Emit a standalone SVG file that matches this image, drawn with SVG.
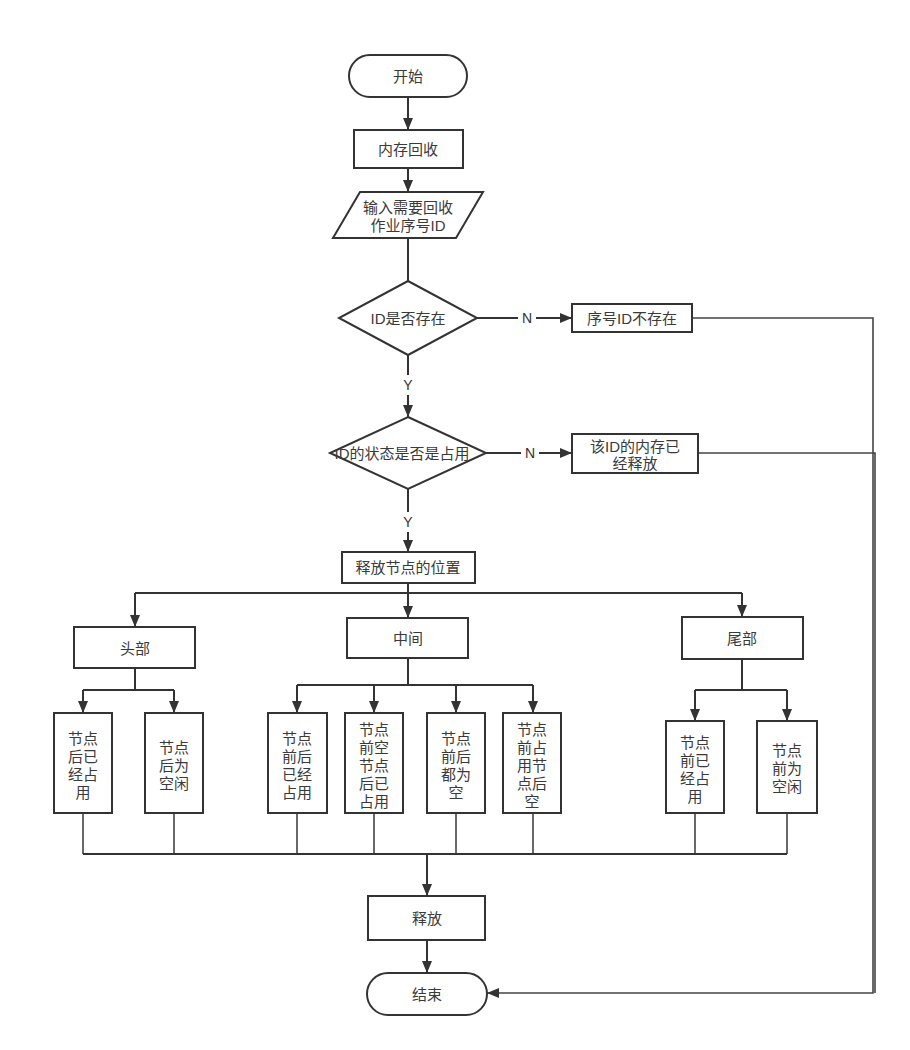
<svg xmlns="http://www.w3.org/2000/svg" width="910" height="1050" viewBox="0 0 910 1050">
<defs>
<style>
.n{fill:#fff;stroke:#333;stroke-width:2}
.t{font-family:"Liberation Sans","Noto Sans CJK SC",sans-serif;font-size:15px;fill:#3a3a3a;text-anchor:middle;dominant-baseline:central}
.c{fill:none;stroke:#333;stroke-width:2}
.c2{fill:none;stroke:#444;stroke-width:1.6}
.lbl{font-family:"Liberation Sans","Noto Sans CJK SC",sans-serif;font-size:14px;fill:#333;text-anchor:middle;dominant-baseline:central}
</style>
<marker id="ah" markerUnits="userSpaceOnUse" markerWidth="12" markerHeight="10" refX="12" refY="5" orient="auto">
<path d="M0,0 L12,5 L0,10 z" fill="#333"/>
</marker>
</defs>
<rect width="910" height="1050" fill="#fff"/>
<g id="connectors">
<path class="c" d="M408,97 V130" marker-end="url(#ah)"/>
<path class="c" d="M408,168 V192" marker-end="url(#ah)"/>
<path class="c" d="M408,238 V281"/>
<path class="c" d="M477,318 H572" marker-end="url(#ah)"/>
<path class="c" d="M408,355 V417" marker-end="url(#ah)"/>
<path class="c" d="M486,453 H572" marker-end="url(#ah)"/>
<path class="c" d="M408,489 V552" marker-end="url(#ah)"/>
<path class="c2" d="M692,318 H873 V993 H487" marker-end="url(#ah)"/>
<path class="c2" d="M698,453 H875 V993"/>
<path class="c" d="M408,583 V618" marker-end="url(#ah)"/>
<path class="c" d="M135,593 H742"/>
<path class="c" d="M135,593 V627" marker-end="url(#ah)"/>
<path class="c" d="M742,593 V617" marker-end="url(#ah)"/>
<path class="c" d="M135,668 V690"/>
<path class="c" d="M83,690 H174"/>
<path class="c" d="M83,690 V713" marker-end="url(#ah)"/>
<path class="c" d="M174,690 V713" marker-end="url(#ah)"/>
<path class="c" d="M408,658 V685"/>
<path class="c" d="M297,685 H533"/>
<path class="c" d="M297,685 V713" marker-end="url(#ah)"/>
<path class="c" d="M374,685 V713" marker-end="url(#ah)"/>
<path class="c" d="M456,685 V713" marker-end="url(#ah)"/>
<path class="c" d="M533,685 V713" marker-end="url(#ah)"/>
<path class="c" d="M742,659 V690"/>
<path class="c" d="M695,690 H787"/>
<path class="c" d="M695,690 V721" marker-end="url(#ah)"/>
<path class="c" d="M787,690 V721" marker-end="url(#ah)"/>
<path class="c2" d="M83,813 V854 M174,813 V854 M297,813 V854 M374,813 V854 M456,813 V854 M533,813 V854 M695,813 V854 M787,813 V854"/>
<path class="c" d="M83,854 H787"/>
<path class="c" d="M427,854 V896" marker-end="url(#ah)"/>
<path class="c" d="M427,940 V973" marker-end="url(#ah)"/>
<rect x="518" y="308" width="18" height="20" fill="#fff"/>
<text class="lbl" x="527" y="318">N</text>
<rect x="521" y="443" width="18" height="20" fill="#fff"/>
<text class="lbl" x="530" y="453">N</text>
<rect x="400" y="375" width="16" height="20" fill="#fff"/>
<text class="lbl" x="408" y="385">Y</text>
<rect x="400" y="512" width="16" height="20" fill="#fff"/>
<text class="lbl" x="408" y="522">Y</text>
</g>
<g id="start"><rect class="n" x="349" y="55" width="118" height="42" rx="21"/><text class="t" x="408" y="76">开始</text></g>
<g id="recycle"><rect class="n" x="354" y="130" width="109" height="38"/><text class="t" x="408" y="149">内存回收</text></g>
<g id="input"><path class="n" d="M360,192 H483 L456,238 H333 Z"/><text class="t" x="408" y="207">输入需要回收</text><text class="t" x="408" y="225">作业序号ID</text></g>
<g id="dec1"><path class="n" d="M408,281 L477,318 L408,355 L339,318 Z"/><text class="t" x="408" y="318">ID是否存在</text></g>
<g id="notexist"><rect class="n" x="572" y="304" width="120" height="28"/><text class="t" x="632" y="318">序号ID不存在</text></g>
<g id="dec2"><path class="n" d="M408,417 L486,453 L408,489 L330,453 Z"/><text class="t" x="402" y="453">ID的状态是否是占用</text></g>
<g id="released"><rect class="n" x="572" y="434" width="126" height="39"/><text class="t" x="635" y="446">该ID的内存已</text><text class="t" x="635" y="463">经释放</text></g>
<g id="pos"><rect class="n" x="342" y="552" width="133" height="31"/><text class="t" x="408" y="567">释放节点的位置</text></g>
<g id="head"><rect class="n" x="74" y="627" width="121" height="41"/><text class="t" x="135" y="648">头部</text></g>
<g id="mid"><rect class="n" x="347" y="618" width="121" height="40"/><text class="t" x="408" y="638">中间</text></g>
<g id="tail"><rect class="n" x="682" y="617" width="121" height="42"/><text class="t" x="742" y="638">尾部</text></g>
<g id="h1"><rect class="n" x="54" y="713" width="58" height="100"/><text class="t" x="83" y="738">节点</text><text class="t" x="83" y="756">后已</text><text class="t" x="83" y="774">经占</text><text class="t" x="83" y="792">用</text></g>
<g id="h2"><rect class="n" x="145" y="713" width="58" height="100"/><text class="t" x="174" y="747">节点</text><text class="t" x="174" y="765">后为</text><text class="t" x="174" y="783">空闲</text></g>
<g id="m1"><rect class="n" x="268" y="713" width="59" height="100"/><text class="t" x="297" y="738">节点</text><text class="t" x="297" y="756">前后</text><text class="t" x="297" y="774">已经</text><text class="t" x="297" y="792">占用</text></g>
<g id="m2"><rect class="n" x="345" y="713" width="58" height="100"/><text class="t" x="374" y="729">节点</text><text class="t" x="374" y="747">前空</text><text class="t" x="374" y="765">节点</text><text class="t" x="374" y="783">后已</text><text class="t" x="374" y="801">占用</text></g>
<g id="m3"><rect class="n" x="427" y="713" width="58" height="100"/><text class="t" x="456" y="738">节点</text><text class="t" x="456" y="756">前后</text><text class="t" x="456" y="774">都为</text><text class="t" x="456" y="792">空</text></g>
<g id="m4"><rect class="n" x="503" y="713" width="58" height="100"/><text class="t" x="532" y="729">节点</text><text class="t" x="532" y="747">前占</text><text class="t" x="532" y="765">用节</text><text class="t" x="532" y="783">点后</text><text class="t" x="532" y="801">空</text></g>
<g id="t1"><rect class="n" x="666" y="721" width="58" height="92"/><text class="t" x="695" y="742">节点</text><text class="t" x="695" y="760">前已</text><text class="t" x="695" y="778">经占</text><text class="t" x="695" y="796">用</text></g>
<g id="t2"><rect class="n" x="757" y="721" width="60" height="92"/><text class="t" x="787" y="750">节点</text><text class="t" x="787" y="768">前为</text><text class="t" x="787" y="786">空闲</text></g>
<g id="release"><rect class="n" x="368" y="896" width="117" height="44"/><text class="t" x="427" y="918">释放</text></g>
<g id="end"><rect class="n" x="367" y="973" width="120" height="42" rx="21"/><text class="t" x="427" y="994">结束</text></g>
</svg>
